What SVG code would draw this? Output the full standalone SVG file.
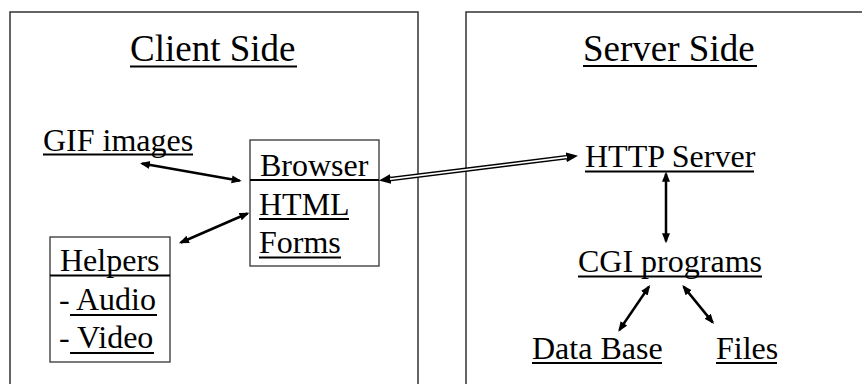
<svg xmlns="http://www.w3.org/2000/svg" width="862" height="384" viewBox="0 0 862 384">
<defs>
<style>
.panel{fill:none;stroke:#333;stroke-width:1.5}
.box{fill:#fff;stroke:#333;stroke-width:1.3}
.t{font-size:32px;fill:#000}
.title{font-size:37px;fill:#000}
.ul{stroke:#000;stroke-width:2}
.arr{stroke:#000;stroke-width:2.5;fill:none;marker-start:url(#ah);marker-end:url(#ah)}
</style>
<marker id="ah" markerUnits="userSpaceOnUse" markerWidth="12" markerHeight="10" refX="8" refY="4" orient="auto-start-reverse">
<path d="M0,0 L10,4 L0,8 z" fill="#000"/>
</marker>
<marker id="ah2" markerUnits="userSpaceOnUse" markerWidth="14" markerHeight="12" refX="0" refY="5" orient="auto-start-reverse">
<path d="M0,0 L12,5 L0,10 z" fill="#000"/>
</marker>
</defs>
<rect width="862" height="384" fill="#fff"/>
<g font-family="Liberation Serif, Tinos, DejaVu Serif, serif">
<g id="client-panel">
<rect class="panel" x="10" y="12" width="408" height="400"/>
<text class="title" x="130" y="61">Client Side</text>
<line class="ul" x1="130" y1="66.5" x2="297" y2="66.5"/>
</g>
<g id="server-panel">
<path class="panel" d="M466,400 V12 H870"/>
<text class="title" x="583" y="61">Server Side</text>
<line class="ul" x1="583" y1="66" x2="757" y2="66"/>
</g>
<g id="gif-images">
<text class="t" x="43" y="151">GIF images</text>
<line class="ul" x1="43" y1="154.5" x2="193" y2="154.5"/>
</g>
<g id="browser">
<rect class="box" x="250" y="140" width="129" height="126"/>
<text class="t" x="260" y="176">Browser</text>
<line class="ul" x1="250" y1="180" x2="379" y2="180"/>
<text class="t" x="259" y="215">HTML</text>
<line class="ul" x1="259" y1="219" x2="349" y2="219"/>
<text class="t" x="259" y="253">Forms</text>
<line class="ul" x1="259" y1="257.5" x2="341" y2="257.5"/>
</g>
<g id="helpers">
<rect class="box" x="50" y="237" width="120" height="125"/>
<text class="t" x="60" y="271">Helpers</text>
<line class="ul" x1="50" y1="275.5" x2="170" y2="275.5"/>
<text class="t" x="59" y="310">- Audio</text>
<line class="ul" x1="70" y1="315" x2="157" y2="315"/>
<text class="t" x="59" y="348">- Video</text>
<line class="ul" x1="70" y1="353" x2="154" y2="353"/>
</g>
<g id="http-server">
<text class="t" x="585" y="167">HTTP Server</text>
<line class="ul" x1="585" y1="171.5" x2="754" y2="171.5"/>
</g>
<g id="cgi-programs">
<text class="t" x="578" y="272">CGI programs</text>
<line class="ul" x1="578" y1="276.5" x2="762" y2="276.5"/>
</g>
<g id="data-base">
<text class="t" x="532" y="359">Data Base</text>
<line class="ul" x1="532" y1="363" x2="662" y2="363"/>
</g>
<g id="files">
<text class="t" x="716" y="359">Files</text>
<line class="ul" x1="716" y1="363" x2="777" y2="363"/>
</g>
</g>
<g id="connectors">
<line class="arr" x1="142" y1="163.6" x2="239.7" y2="180.7"/>
<line class="arr" x1="180.8" y1="242.5" x2="247.5" y2="213.5"/>
<line class="arr" x1="666" y1="173.7" x2="666" y2="241.3"/>
<line class="arr" x1="648.9" y1="286.7" x2="619.4" y2="330"/>
<line class="arr" x1="683.6" y1="286.6" x2="712.7" y2="322.4"/>
<line x1="390.9" y1="179" x2="566.1" y2="157.2" stroke="#000" stroke-width="4.5" marker-start="url(#ah2)" marker-end="url(#ah2)"/>
<line x1="390" y1="179.1" x2="567" y2="157.1" stroke="#fff" stroke-width="1.6"/>
</g>
</svg>
